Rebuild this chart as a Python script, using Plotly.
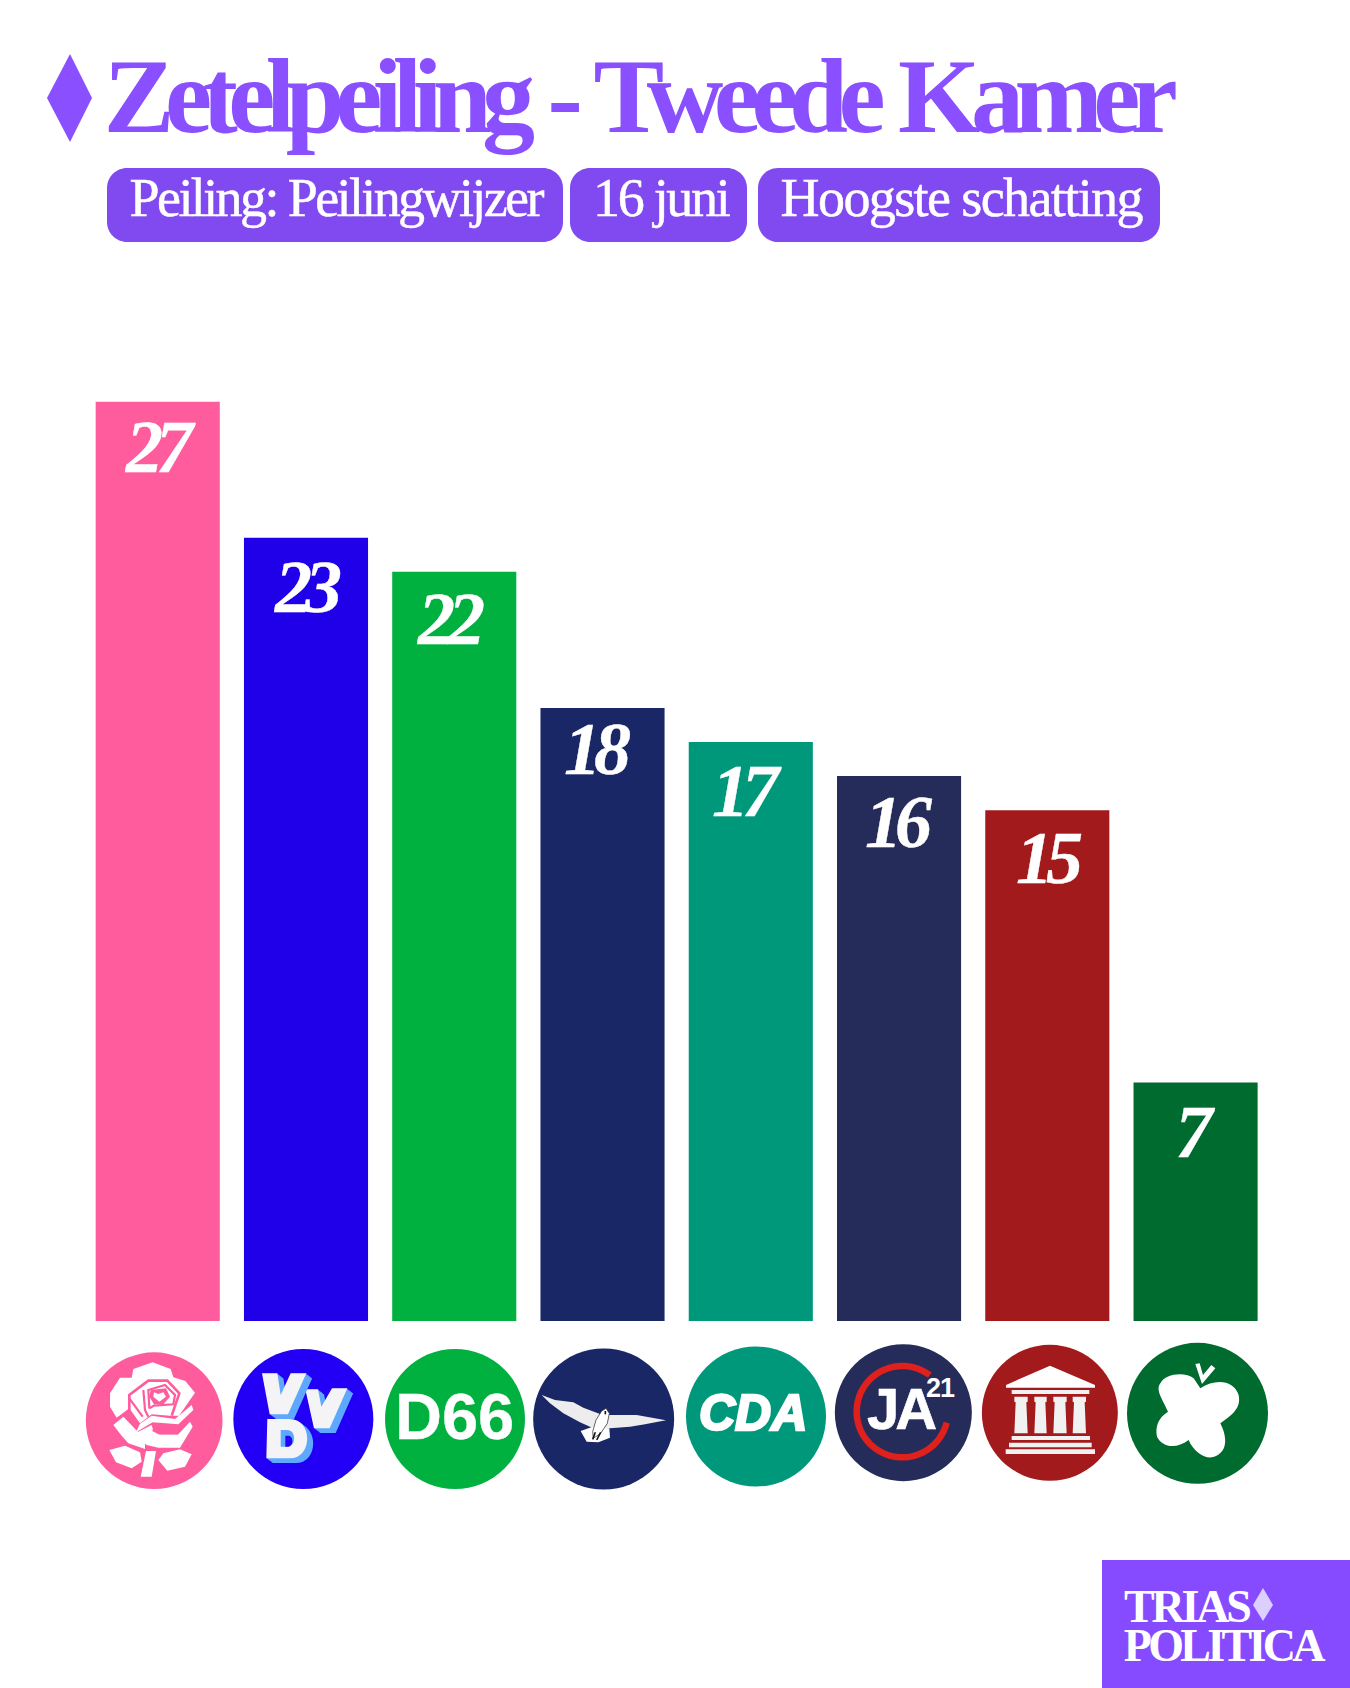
import json
import numpy as np
import plotly.graph_objects as go

W, H = 1350, 1688

PARTIES = ["PvdA", "VVD", "D66", "ChristenUnie", "CDA", "JA21", "SP", "PvdD"]
SEATS = [27, 23, 22, 18, 17, 16, 15, 7]
COLORS = ["#FF5C9E", "#2000E8", "#00B140", "#192766", "#00987B", "#252C5A", "#A31A1C", "#006B2E"]
TITLE = "Zetelpeiling - Tweede Kamer"
PILLS = ["Peiling: Peilingwijzer", "16 juni", "Hoogste schatting"]

LABEL_XSHIFT = [-1, -1, -6.5, -8.5, -7, -4.5, -1, -4]
LABEL_YSHIFT = [-2, -6, -4, 2, -6, -3, -5, -6]

PURPLE = "#8A4FFF"
PILL = "#814AF0"
SERIF = "Liberation Serif"
SANS = "Liberation Sans"

def px(x): return x / W
def py(y): return 1 - y / H

shapes, notes = [], []

def poly(points, fill, x0=0, y0=0, scale=1.0, dx=0, dy=0):
    s = "M" + " L".join(f"{px(x0+(a+dx)/scale):.5f},{py(y0+(b+dy)/scale):.5f}" for a, b in points) + " Z"
    shapes.append(dict(type="path", xref="paper", yref="paper", path=s, fillcolor=fill, line=dict(width=0), layer="above"))

def curve(cmds, fill, x0, y0, scale=3.0):
    parts = []
    for c in cmds:
        op, pts = c[0], c[1:]
        parts.append(op + " ".join(f"{px(x0+a/scale):.5f},{py(y0+b/scale):.5f}" for a, b in pts))
    shapes.append(dict(type="path", xref="paper", yref="paper", path=" ".join(parts) + " Z", fillcolor=fill, line=dict(width=0), layer="above"))

def stroke(points, color, width, x0, y0, scale=3.0):
    s = "M" + " L".join(f"{px(x0+a/scale):.5f},{py(y0+b/scale):.5f}" for a, b in points)
    shapes.append(dict(type="path", xref="paper", yref="paper", path=s, line=dict(color=color, width=width), layer="above"))

def rect(x1, y1, x2, y2, fill):
    shapes.append(dict(type="rect", xref="paper", yref="paper", x0=px(x1), x1=px(x2), y0=py(y2), y1=py(y1),
                       fillcolor=fill, line=dict(width=0), layer="above"))

def disc(cx, cy, r, fill):
    shapes.append(dict(type="circle", xref="paper", yref="paper", x0=px(cx-r), x1=px(cx+r), y0=py(cy+r), y1=py(cy-r),
                       fillcolor=fill, line=dict(width=0), layer="above"))

def rrect(x1, y1, x2, y2, r, fill):
    k = r * 0.45
    c = [("M", (x1+r, y1)), ("L", (x2-r, y1)), ("C", (x2-k, y1), (x2, y1+k), (x2, y1+r)),
         ("L", (x2, y2-r)), ("C", (x2, y2-k), (x2-k, y2), (x2-r, y2)),
         ("L", (x1+r, y2)), ("C", (x1+k, y2), (x1, y2-k), (x1, y2-r)),
         ("L", (x1, y1+r)), ("C", (x1, y1+k), (x1+k, y1), (x1+r, y1))]
    curve(c, fill, 0, 0, 1.0)

def text(s, x, y, size, color, family=SERIF, weight="normal", style="normal"):
    notes.append(dict(text=s, xref="paper", yref="paper", x=px(x), y=py(y), xanchor="center", yanchor="middle",
                      showarrow=False, font=dict(family=family, size=size, color=color, weight=weight, style=style)))

# ---- header
poly([(70, 54), (92, 98), (70, 142), (47, 98)], PURPLE)
text(TITLE, 636, 96, 106, PURPLE, weight="bold")
for (a, b), label in zip([(107, 563), (570, 747), (758, 1160)], PILLS):
    rrect(a, 168, b, 242, 20, PILL)
text(PILLS[0], 335, 198, 54, "#FFFFFF")
text(PILLS[1], 661, 198, 54, "#FFFFFF")
text(PILLS[2], 961, 198, 54, "#FFFFFF")

# ---- footer mark
rect(1102, 1560, 1350, 1688, "#874BFF")
text("TRIAS", 1186, 1606, 46, "#FFFFFF", weight="bold")
text("POLITICA", 1222, 1645, 46, "#FFFFFF", weight="bold")
poly([(1263, 1588), (1273, 1605), (1263, 1621), (1253, 1605)], "#DCCFFF")

# ---- party badges
# PvdA rose
x0, y0 = 80, 1345
disc(x0+222.5/3, y0+227/3, 205/3, COLORS[0])
W1 = "#FFFFFF"
poly([(160,72),(218,52),(272,72),(280,97),(316,108),(345,143),(297,212),(270,212),(215,208),(180,235),(148,190),(110,218),(90,185),(90,145),(120,98),(155,98)], W1, x0, y0, 3)
poly([(100,240),(130,215),(175,262),(195,290),(195,312),(145,295),(125,272)], W1, x0, y0, 3)
poly([(180,236),(215,212),(285,222),(335,180),(340,195),(295,238),(218,232),(168,262)], W1, x0, y0, 3)
poly([(160,268),(215,240),(220,258),(240,268),(295,268),(330,230),(338,245),(300,308),(235,308),(200,300)], W1, x0, y0, 3)
poly([(88,315),(135,302),(180,322),(185,350),(155,370),(108,352)], W1, x0, y0, 3)
poly([(235,345),(250,325),(300,313),(335,328),(315,365),(262,377)], W1, x0, y0, 3)
poly([(198,318),(228,318),(215,395),(182,395)], W1, x0, y0, 3)
P1 = COLORS[0]
stroke([(148,205),(148,150),(205,107),(262,107),(298,145),(275,212)], P1, 2.6, x0, y0)
stroke([(190,135),(195,195),(205,215)], P1, 2.2, x0, y0)
stroke([(148,160),(188,215)], P1, 2.2, x0, y0)
stroke([(208,190),(205,135),(255,120),(285,150),(280,178),(222,182),(208,190)], P1, 2.2, x0, y0)
stroke([(218,255),(238,265),(295,265)], P1, 2.2, x0, y0)
poly([(212,135),(258,130),(270,155),(250,178),(222,178),(208,155)], P1, x0, y0, 3)
poly([(222,142),(235,147),(250,142),(258,155),(238,170),(220,155)], W1, x0, y0, 3)

# VVD
x0, y0 = 228, 1345
disc(x0+226/3, y0+222/3, 70, "#2300F5")
SH, LT = "#5FA8FF", "#F4F4F6"
V1 = [(102,85),(148,85),(158,150),(188,85),(235,85),(180,208),(125,208)]
V2 = [(232,133),(270,133),(280,185),(312,130),(358,130),(305,250),(258,250)]
for pts in (V2, V1):
    for t in np.linspace(1, 0.1, 6):
        poly(pts, SH, x0, y0, 3, dx=18*t, dy=14*t)
    poly(pts, LT, x0, y0, 3)
def d_shape(dx, dy):
    return [("M", (118+dx, 222+dy)), ("L", (185+dx, 222+dy)), ("C", (255+dx, 222+dy), (255+dx, 340+dy), (185+dx, 340+dy)), ("L", (115+dx, 340+dy))]
for t in np.linspace(1, 0.1, 6):
    curve(d_shape(18*t, 14*t), SH, x0, y0)
curve(d_shape(0, 0), LT, x0, y0)
curve([("M", (158,255)), ("L", (178,255)), ("C", (205,255), (205,305), (178,305)), ("L", (158,305))], SH, x0, y0)
curve([("M", (172,272)), ("L", (180,272)), ("C", (198,272), (198,305), (178,305)), ("L", (172,305))], "#2300F5", x0, y0)

# D66
disc(455, 1419, 70, COLORS[2])
text("D66", 454, 1416, 65, "#FFFFFF", SANS, "bold")

# ChristenUnie
x0, y0 = 530, 1345
disc(x0+221/3, y0+222/3, 70.5, COLORS[3])
poly([(35,150),(75,165),(130,172),(160,188),(210,207),(240,210),(320,210),(408,226),(345,238),(300,245),(240,250),(190,250),(150,232),(100,205),(60,175)], "#EDEDED", x0, y0, 3)
poly([(152,258),(188,245),(238,250),(240,278),(205,292),(170,290)], "#FFFFFF", x0, y0, 3)
poly([(228,190),(238,205),(232,235),(212,265),(190,280),(188,260),(198,225),(215,198)], "#FFFFFF", x0, y0, 3)
stroke([(228,190),(238,205),(232,235),(212,265),(190,280),(188,260),(198,225),(215,198),(228,190)], "#222222", 0.7, x0, y0)
stroke([(188,283),(196,262)], "#111111", 1.6, x0, y0)
stroke([(200,285),(212,262)], "#111111", 1.6, x0, y0)
stroke([(226,198),(226,208)], "#111111", 1.6, x0, y0)

# CDA
disc(756, 1416.5, 70, COLORS[4])
text("CDA", 752.7, 1413, 50, "#FFFFFF", SANS, "bold", "italic")

# JA21
x0, y0 = 830, 1340
disc(x0+220/3, y0+218/3, 68.5, COLORS[5])
ang = np.radians(np.linspace(-53, -53-293, 90))
stroke([(217+137*np.cos(a), 215+137*np.sin(a)) for a in ang], "#E0201C", 6.5, x0, y0)
text("JA", 900, 1408, 58, "#FFFFFF", SANS, "bold")
text("21", 940, 1388, 27, "#FFFFFF", SANS, "bold")

# SP
x0, y0 = 975, 1340
disc(x0+224.5/3, y0+218.5/3, 68, COLORS[6])
G = "#F1F1F1"
poly([(93,135),(225,77),(360,135),(360,143),(93,143)], "#FFFFFF", x0, y0, 3)
poly([(110,150),(343,150),(343,162),(110,162)], G, x0, y0, 3)
for a, b in [(118,158),(178,215),(235,275),(293,333)]:
    poly([(a,170),(b,170),(b,185),(b-4,187),(b,280),(a,280),(a+4,187),(a,185)], G, x0, y0, 3)
poly([(110,288),(345,288),(345,300),(110,300)], G, x0, y0, 3)
poly([(102,308),(350,308),(350,322),(102,322)], G, x0, y0, 3)
poly([(92,328),(360,328),(360,342),(92,342)], G, x0, y0, 3)

# PvdD
x0, y0 = 1122, 1340
disc(x0+226.5/3, y0+220/3, 70.5, COLORS[7])
curve([("M", (235,145)), ("L", (215,115)), ("C", (190,95), (130,100), (115,130)),
       ("C", (100,150), (120,175), (138,215)), ("C", (105,235), (100,265), (105,290)),
       ("C", (120,320), (160,330), (200,300)), ("C", (215,335), (245,355), (270,352)),
       ("C", (305,345), (325,310), (295,250)), ("C", (330,225), (358,205), (350,165)),
       ("C", (335,120), (280,115), (235,145))], "#FFFFFF", x0, y0)
poly([(220,72),(233,70),(243,105),(268,75),(280,85),(240,132)], "#FFFFFF", x0, y0, 3)

# ---- seat labels on the bars
for name, seats, xs, ys in zip(PARTIES, SEATS, LABEL_XSHIFT, LABEL_YSHIFT):
    notes.append(dict(text=str(seats), x=name, y=seats, xref="x", yref="y", xanchor="center", yanchor="top",
                      xshift=xs, yshift=ys, showarrow=False,
                      font=dict(family=SERIF, size=74, color="#FFFFFF", weight="bold", style="italic")))

fig = go.Figure(go.Bar(x=PARTIES, y=SEATS, marker=dict(color=COLORS, line=dict(width=0)), hoverinfo="skip"))
fig.update_layout(
    width=W, height=H, autosize=False, margin=dict(l=0, r=0, t=0, b=0),
    paper_bgcolor="#FFFFFF", plot_bgcolor="#FFFFFF", showlegend=False, bargap=0.163,
    xaxis=dict(domain=[83.6/W, 1269.7/W], range=[-0.5, 7.5], visible=False, type="category",
               categoryorder="array", categoryarray=PARTIES),
    yaxis=dict(domain=[1-1321/H, 1-401.5/H], range=[0, 27], visible=False),
    shapes=shapes, annotations=notes,
)

SPACING = {TITLE: -9.5, PILLS[0]: -2.6, PILLS[1]: -2.3, PILLS[2]: -1.6, "TRIAS": -3.2, "POLITICA": -3.7, "JA": -4, "21": -1}
for s in SEATS:
    SPACING[str(s)] = -7
WORDGAP = {TITLE: 5}
HEAVY = {"CDA": 2.5, "JA": 0.6, "D66": 0.3, PILLS[0]: 0.5, PILLS[1]: 0.5, PILLS[2]: 0.5}
for s in SEATS:
    HEAVY[str(s)] = 0.4
post = """
document.documentElement.style.overflow = 'hidden';
document.body.style.margin = '0';
var SP = %s, HV = %s, WG = %s;
function ls(){
  document.querySelectorAll('.annotation-text').forEach(function(t){
    var k = t.textContent, v = SP[k], h = HV[k], g = WG[k];
    if (v !== undefined) { t.style.letterSpacing = v + 'px'; }
    if (g !== undefined) { t.style.wordSpacing = g + 'px'; }
    if (h !== undefined) { t.style.stroke = '#FFFFFF'; t.style.strokeWidth = h + 'px'; }
  });
}
ls(); setTimeout(ls, 0); setTimeout(ls, 150);
""" % (json.dumps(SPACING), json.dumps(HEAVY), json.dumps(WORDGAP))

fig.write_html("out.html", post_script=post, config=dict(displayModeBar=False))
